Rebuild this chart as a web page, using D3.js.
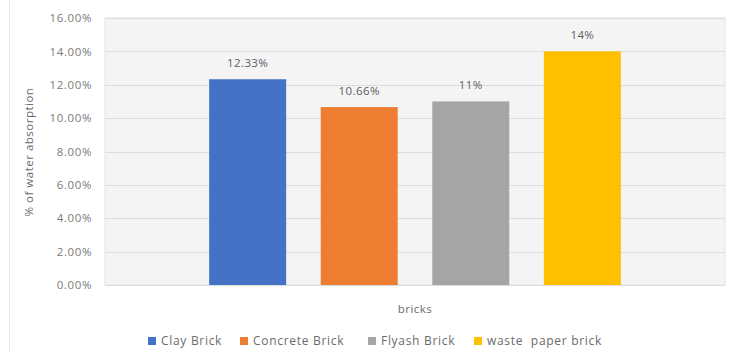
<!DOCTYPE html>
<html>
<head>
<meta charset="utf-8">
<script src="https://cdn.jsdelivr.net/npm/d3@7"></script>
<style>
  body { margin: 0; background: #fff; }
  text { font-family: "Open Sans", sans-serif; fill: #6b6b6b; }
</style>
</head>
<body>
<script>
    // Data
    var category = "bricks";
    var seriesNames = ["Clay Brick", "Concrete Brick", "Flyash Brick", "waste  paper brick"];
    var seriesValues = [12.33, 10.66, 11, 14];
    var valueLabels = ["12.33%", "10.66%", "11%", "14%"];
    var yTicks = [0, 2, 4, 6, 8, 10, 12, 14, 16];
    var colors = ["#4472C4", "#ED7D31", "#A5A5A5", "#FFC000"];

    // Dimensions
    var w = 731, h = 352;
    var plotLeft = 105, plotRight = 725, plotTop = 18, plotBottom = 285;

    var svg = d3.select("body")
        .append("svg")
        .attr("width", w)
        .attr("height", h);

    // faint frame line on the left edge
    svg.append("line")
        .attr("x1", 9.5).attr("x2", 9.5)
        .attr("y1", 0).attr("y2", h)
        .style("stroke", "#ececec");

    // Plot area background
    svg.append("rect")
        .attr("x", plotLeft)
        .attr("y", plotTop)
        .attr("width", plotRight - plotLeft)
        .attr("height", plotBottom - plotTop)
        .style("fill", "#f4f4f4")
        .style("stroke", "#e4e4e4");

    // Scales
    var y = d3.scaleLinear()
        .domain([0, 16])
        .range([plotBottom, plotTop]);

    var x0 = d3.scaleBand()
        .domain([category])
        .range([plotLeft, plotRight])
        .paddingInner(0)
        .paddingOuter(0.253);

    var x1 = d3.scaleBand()
        .domain(seriesNames)
        .range([0, x0.bandwidth()])
        .paddingInner(0.31);

    // Grid lines
    svg.selectAll(".grid")
        .data(yTicks)
        .enter()
        .append("line")
        .attr("class", "grid")
        .attr("x1", plotLeft)
        .attr("x2", plotRight)
        .attr("y1", d => Math.round(y(d)) + 0.5)
        .attr("y2", d => Math.round(y(d)) + 0.5)
        .style("stroke", "#dcdcdc");

    // Y axis
    var yAxis = d3.axisLeft(y)
        .tickValues(yTicks)
        .tickSize(0)
        .tickPadding(13)
        .tickFormat(d => d.toFixed(2) + "%");

    var axis = svg.append("g")
        .attr("transform", "translate(" + plotLeft + ",0)")
        .call(yAxis);
    axis.select(".domain").remove();
    axis.selectAll("text")
        .style("font-family", "'Open Sans', sans-serif")
        .style("font-size", "11.5px")
        .style("letter-spacing", "0.6px")
        .style("fill", "#7a7a7a");

    // Bars
    var g = svg.append("g")
        .attr("transform", "translate(" + x0(category) + ",0)");

    g.selectAll(".bar")
        .data(seriesValues)
        .enter()
        .append("rect")
        .attr("class", "bar")
        .attr("x", (d, i) => x1(seriesNames[i]))
        .attr("y", d => y(d))
        .attr("width", x1.bandwidth())
        .attr("height", d => y(0) - y(d))
        .style("fill", (d, i) => colors[i]);

    // Value labels
    g.selectAll(".vlabel")
        .data(seriesValues)
        .enter()
        .append("text")
        .attr("class", "vlabel")
        .attr("x", (d, i) => x1(seriesNames[i]) + x1.bandwidth() / 2)
        .attr("y", d => y(d) - 12)
        .attr("text-anchor", "middle")
        .style("font-size", "11.5px")
        .style("letter-spacing", "0.4px")
        .style("fill", "#606060")
        .text((d, i) => valueLabels[i]);

    // Axis titles
    svg.append("text")
        .attr("text-anchor", "middle")
        .attr("transform", "translate(33,152) rotate(-90)")
        .style("font-size", "11.5px")
        .style("letter-spacing", "0.5px")
        .text("% of water absorption");

    svg.append("text")
        .attr("text-anchor", "middle")
        .attr("x", (plotLeft + plotRight) / 2)
        .attr("y", 313)
        .style("font-size", "11.5px")
        .style("letter-spacing", "0.5px")
        .text(category);

    // Legend
    var legendX = [148, 240, 368, 474];
    var legend = svg.selectAll(".legend")
        .data(seriesNames)
        .enter()
        .append("g")
        .attr("class", "legend")
        .attr("transform", (d, i) => "translate(" + legendX[i] + ",337)");

    legend.append("rect")
        .attr("width", 8)
        .attr("height", 8)
        .style("fill", (d, i) => colors[i]);

    legend.append("text")
        .attr("x", 13)
        .attr("y", 8)
        .style("font-size", "12px")
        .style("letter-spacing", "0.7px")
        .style("white-space", "pre")
        .text(d => d);
</script>
</body>
</html>
